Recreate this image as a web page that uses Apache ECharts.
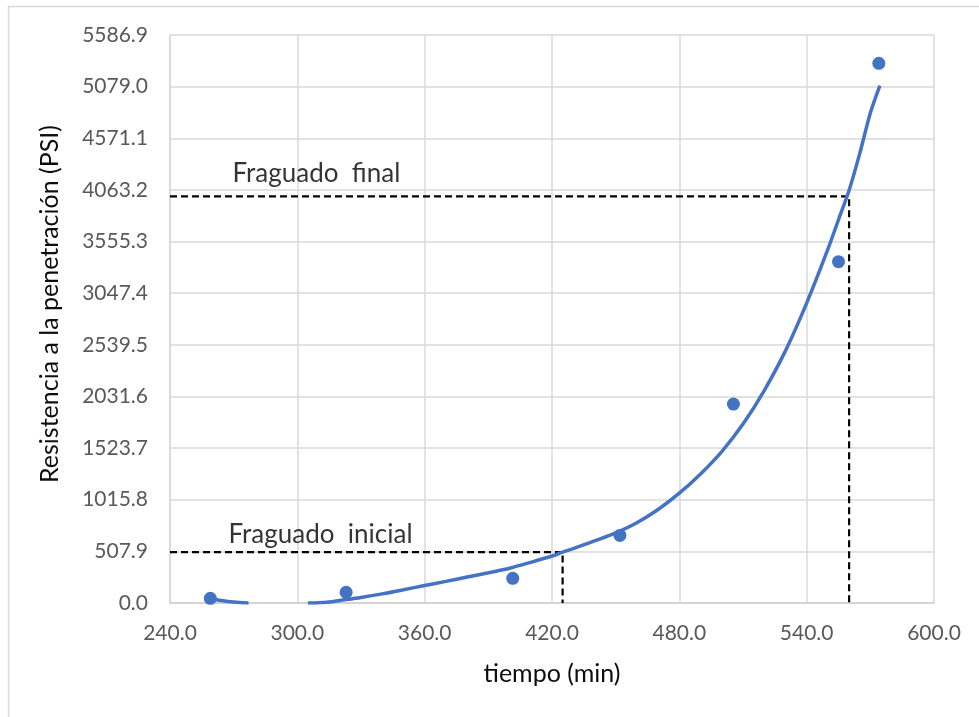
<!DOCTYPE html>
<html>
<head>
<meta charset="utf-8">
<script src="https://cdn.jsdelivr.net/npm/echarts@6/dist/echarts.min.js"></script>
<style>
  html, body { margin: 0; padding: 0; background: #ffffff; }
  #chart { width: 979px; height: 717px; }
</style>
</head>
<body>
<div id="chart"></div>
<script>
// Penetration resistance measurements: time (min) and resistance (PSI)
const measuredTime = [259, 323, 401.5, 452, 505.5, 555, 574];
const measuredPsi  = [46, 105, 243, 665, 1957, 3357, 5308];

// Trend curve, read along its two visible stretches (it drops below 0 between them)
const trendTimeA = [259, 265, 270, 277];
const trendPsiA  = [45, 22, 10, 0];
const trendTimeB = [305, 310, 315, 320, 330, 340, 350, 360, 370, 380, 390, 400, 410, 420, 425, 430, 440, 450, 460, 470, 480, 490, 500, 510, 520, 530, 540, 550, 555, 560, 565, 570, 574.5];
const trendPsiB  = [0, 2, 10, 25, 55, 90, 130, 172, 213, 255, 297, 342, 400, 462, 500, 535, 610, 690, 790, 920, 1080, 1270, 1490, 1760, 2090, 2480, 2950, 3480, 3770, 4060, 4420, 4820, 5090];

// Setting-time guide lines (initial: 500 PSI, final: 4000 PSI)
const setNames = ['Fraguado  inicial', 'Fraguado  final'];
const setPsi   = [500, 4000];
const setTime  = [425, 560];

// Axis ranges and tick steps
const xMin = 240, xMax = 600, xStep = 60;
const yMin = 0, yStep = 507.9, yMax = 5586.9;

const zip = (xs, ys) => xs.map((x, i) => [x, ys[i]]);
const guide = (i) => [[xMin, setPsi[i]], [setTime[i], setPsi[i]], [setTime[i], yMin]];

const FONT = 'Lato, "Open Sans", sans-serif';
const BLUE = '#4472C4';

const chart = echarts.init(document.getElementById('chart'), null, { renderer: 'canvas' });

const guideSeries = (i, labelOffset) => [
  {
    type: 'line',
    data: guide(i),
    symbol: 'none',
    silent: true,
    lineStyle: { color: '#000000', width: 2.2, type: [7, 4] },
    z: 3
  },
  {
    type: 'scatter',
    data: [{ value: guide(i)[0], name: setNames[i] }],
    symbolSize: 1,
    itemStyle: { color: 'rgba(0,0,0,0)' },
    silent: true,
    label: {
      show: true,
      position: 'right',
      distance: 5,
      offset: labelOffset,
      formatter: (p) => p.name,
      fontFamily: FONT,
      fontSize: 26,
      color: '#000000'
    },
    z: 4
  }
];

const trendLine = (xs, ys) => ({
  type: 'line',
  data: zip(xs, ys),
  symbol: 'none',
  smooth: 0.3,
  lineStyle: { color: BLUE, width: 3.5 },
  z: 5
});

chart.setOption({
  animation: false,
  backgroundColor: '#ffffff',
  grid: { left: 170, right: 45, top: 35, bottom: 114 },
  graphic: [{
    type: 'rect',
    shape: { x: 8.5, y: 6.5, width: 1200, height: 1000 },
    style: { fill: 'none', stroke: '#d9d9d9', lineWidth: 1.5 },
    silent: true,
    z: -10
  }],
  xAxis: {
    type: 'value',
    min: xMin, max: xMax, interval: xStep,
    name: 'tiempo (min)',
    nameLocation: 'middle',
    nameGap: 58,
    nameTextStyle: { fontFamily: FONT, fontSize: 25, color: '#0d0d0d' },
    axisLine: { show: true, lineStyle: { color: '#d0d0d0', width: 1.5 } },
    axisTick: { show: false },
    axisLabel: {
      margin: 20,
      fontFamily: FONT, fontSize: 21, color: '#595959',
      formatter: (v) => v.toFixed(1)
    },
    splitLine: { show: true, lineStyle: { color: '#d9d9d9', width: 1.5 } }
  },
  yAxis: {
    type: 'value',
    min: yMin, max: yMax, interval: yStep,
    name: 'Resistencia a la penetración (PSI)',
    nameLocation: 'middle',
    nameRotate: 90,
    nameGap: 108,
    nameTextStyle: { fontFamily: FONT, fontSize: 25, color: '#0d0d0d', padding: [0, 0, 0, 30] },
    axisLine: { show: true, lineStyle: { color: '#d9d9d9', width: 1.5 } },
    axisTick: { show: false },
    axisLabel: {
      margin: 22,
      fontFamily: FONT, fontSize: 21, color: '#595959',
      formatter: (v) => v.toFixed(1)
    },
    splitLine: { show: true, lineStyle: { color: '#d9d9d9', width: 1.5 } }
  },
  series: [
    ...guideSeries(0, [53, -18]),
    ...guideSeries(1, [57, -23]),
    trendLine(trendTimeA, trendPsiA),
    trendLine(trendTimeB, trendPsiB),
    {
      type: 'scatter',
      data: zip(measuredTime, measuredPsi),
      symbol: 'circle',
      symbolSize: 13,
      itemStyle: { color: BLUE, opacity: 1 },
      z: 6
    }
  ]
});
</script>
</body>
</html>
